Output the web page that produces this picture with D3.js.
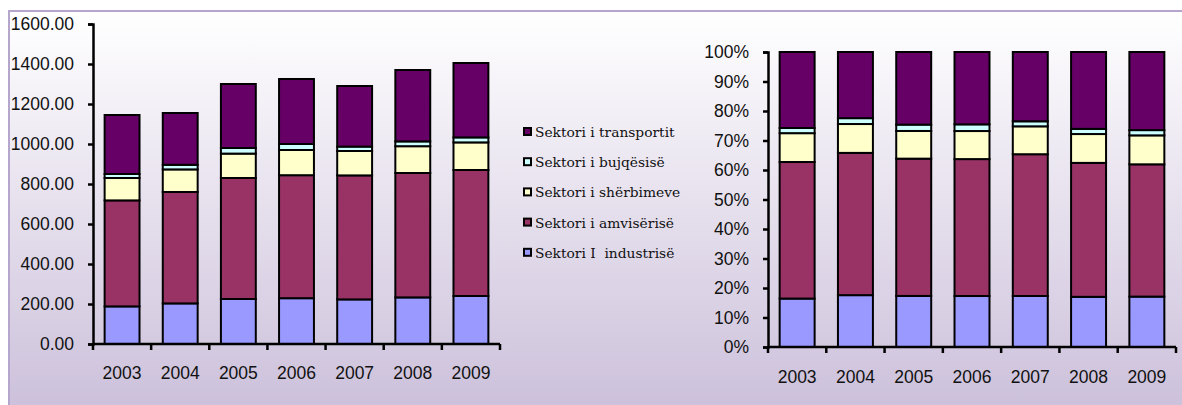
<!DOCTYPE html>
<html lang="en">
<head>
<meta charset="UTF-8" />
<title>Sektoret</title>
<script src="https://cdn.jsdelivr.net/npm/d3@7"></script>
<style>
  body { margin: 0; background: #fff; }
  svg { display: block; }
  .legend text { white-space: pre; }
</style>
</head>
<body>
<div id="chart"></div>
<script>
// data
var years = ["2003", "2004", "2005", "2006", "2007", "2008", "2009"];
var industria = [188, 203, 225, 229, 223, 233, 240];
var amviseria = [530, 557, 605, 615, 620, 622, 630];
var sherbimet = [112, 113, 122, 126, 122, 134, 138];
var bujqesia = [20, 23, 28, 30, 22, 24, 25];
var transporti = [295, 259, 320, 325, 303, 357, 372];

var seriesNames = ["Sektori I  industrisë", "Sektori i amvisërisë", "Sektori i shërbimeve", "Sektori i bujqësisë", "Sektori i transportit"];
var seriesColors = ["#9999ff", "#993366", "#ffffcc", "#ccffff", "#660066"];
var leftTicks = [0, 200, 400, 600, 800, 1000, 1200, 1400, 1600];
var rightTicks = [0, 0.1, 0.2, 0.3, 0.4, 0.5, 0.6, 0.7, 0.8, 0.9, 1];

var w = 1182, h = 405;
var svg = d3.select("#chart").append("svg").attr("width", w).attr("height", h);

var grad = svg.append("defs").append("linearGradient")
  .attr("id", "bg").attr("x1", 0).attr("y1", 0).attr("x2", 0).attr("y2", 1);
grad.append("stop").attr("offset", "0%").attr("stop-color", "#ffffff");
grad.append("stop").attr("offset", "100%").attr("stop-color", "#cbbfda");

svg.append("rect")
  .attr("x", 9).attr("y", 11).attr("width", w).attr("height", h)
  .attr("fill", "url(#bg)")
  .attr("stroke", "#b4a6cc").attr("stroke-width", 2);

var rows = years.map(function(y, i) {
  return { year: y, values: [industria[i], amviseria[i], sherbimet[i], bujqesia[i], transporti[i]] };
});

function stackRows(norm) {
  return rows.map(function(r) {
    var total = d3.sum(r.values), acc = 0;
    return r.values.map(function(v, k) {
      var v0 = acc; acc += v;
      return norm ? { k: k, y0: v0 / total, y1: acc / total, year: r.year }
                  : { k: k, y0: v0, y1: acc, year: r.year };
    });
  });
}

function drawChart(opt) {
  var g = svg.append("g");
  var x = d3.scaleBand().domain(years).range([opt.x0, opt.x1]).paddingInner(0.4).paddingOuter(0.2);
  var y = d3.scaleLinear().domain(opt.domain).range([opt.yb, opt.yt]);

  var stacks = stackRows(opt.norm);
  g.selectAll("g.bar").data(stacks).enter().append("g")
    .selectAll("rect").data(function(d) { return d; }).enter().append("rect")
    .attr("x", function(d) { return x(d.year); })
    .attr("width", x.bandwidth())
    .attr("y", function(d) { return y(d.y1); })
    .attr("height", function(d) { return y(d.y0) - y(d.y1); })
    .attr("fill", function(d) { return seriesColors[d.k]; })
    .attr("stroke", "#000").attr("stroke-width", 2);

  var ya = g.append("g").attr("transform", "translate(" + opt.x0 + ",0)")
    .call(d3.axisLeft(y).tickValues(opt.ticks).tickFormat(opt.fmt).tickSize(5).tickPadding(14));
  ya.select(".domain").attr("stroke-width", 2.5);
  ya.selectAll(".tick line").attr("stroke-width", 2.5);
  ya.selectAll("text").attr("font-family", "Liberation Sans, Arial, sans-serif")
    .attr("font-size", 17.5).attr("fill", "#111");

  var xa = g.append("g").attr("transform", "translate(0," + opt.yb + ")")
    .call(d3.axisBottom(x).tickSize(0).tickPadding(opt.xpad));
  xa.select(".domain").remove();
  xa.selectAll("text").attr("font-family", "Liberation Sans, Arial, sans-serif")
    .attr("font-size", 17.5).attr("fill", "#111");
  g.append("line").attr("x1", opt.x0).attr("x2", opt.x1)
    .attr("y1", opt.yb).attr("y2", opt.yb).attr("stroke", "#000").attr("stroke-width", 2.5);
  g.selectAll("line.sep").data(d3.range(years.length + 1)).enter().append("line")
    .attr("x1", function(i) { return opt.x0 + i * x.step(); })
    .attr("x2", function(i) { return opt.x0 + i * x.step(); })
    .attr("y1", opt.yb).attr("y2", opt.yb + 6)
    .attr("stroke", "#000").attr("stroke-width", 2.5);
}

drawChart({ x0: 93, x1: 500, yb: 344, yt: 24, domain: [0, 1600], ticks: leftTicks,
  fmt: function(d) { return d.toFixed(2); }, norm: false, xpad: 23 });
drawChart({ x0: 768, x1: 1176, yb: 347, yt: 52, domain: [0, 1], ticks: rightTicks,
  fmt: d3.format(".0%"), norm: true, xpad: 24 });

// legend, top entry first
var leg = svg.append("g").attr("class", "legend").attr("transform", "translate(524,132)");
var items = leg.selectAll("g").data(d3.range(seriesNames.length).reverse()).enter().append("g")
  .attr("transform", function(k, i) { return "translate(0," + (i * 30.2) + ")"; });
items.append("rect").attr("x", 0).attr("y", -4).attr("width", 7).attr("height", 7)
  .attr("fill", function(k) { return seriesColors[k]; })
  .attr("stroke", "#000").attr("stroke-width", 2);
items.append("text").attr("x", 11).attr("y", 5)
  .attr("font-family", "DejaVu Serif, serif").attr("font-size", 13.8).attr("fill", "#111")
  .text(function(k) { return seriesNames[k]; });
</script>
</body>
</html>
